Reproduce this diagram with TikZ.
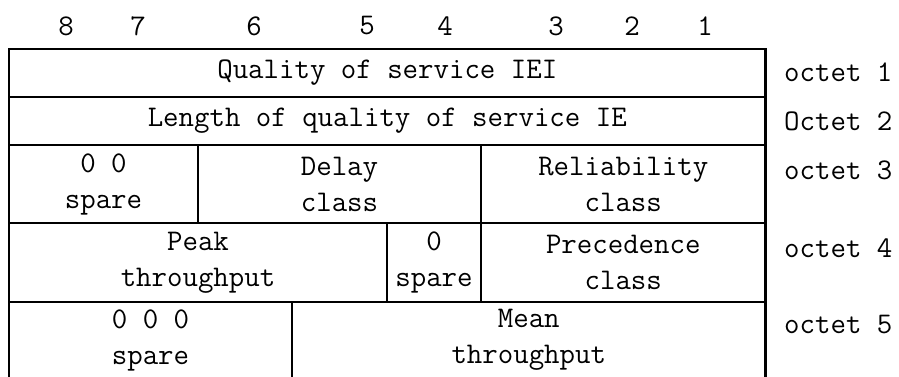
\documentclass[tikz,border=0pt]{standalone}
\usepackage{fontspec}
\usetikzlibrary{positioning}

\tikzset{
  field/.style={draw, line width=2.2pt, inner sep=0pt, align=center,
    font=\ttfamily\fontsize{30}{36}\selectfont},
  bitnum/.style={inner sep=0pt, font=\ttfamily\fontsize{30}{36}\selectfont},
  octetlbl/.style={anchor=west, inner sep=0pt, font=\ttfamily\fontsize{30}{36}\selectfont}
}

\begin{document}
\begin{tikzpicture}[x=1pt, y=-1pt]
  \useasboundingbox (0,0) rectangle (899,376);

  % bit numbers
  \node[bitnum] (b8) at (66,26) {8};
  \node[bitnum] (b7) at (138,26) {7};
  \node[bitnum] (b6) at (254,26) {6};
  \node[bitnum] (b5) at (367,26) {5};
  \node[bitnum] (b4) at (445,26) {4};
  \node[bitnum] (b3) at (556,26) {3};
  \node[bitnum] (b2) at (632,26) {2};
  \node[bitnum] (b1) at (705,26) {1};

  % octets 1 and 2
  \node[field, minimum width=756.5pt, minimum height=48pt] (iei) at (387.25,73) {Quality of service IEI};
  \node[field, minimum width=756.5pt, minimum height=48pt] (len) at (387.25,121) {Length of quality of service IE};

  % octet 3
  \node[field, minimum width=189pt, minimum height=78pt] (sp3) at (103.5,184) {0 0\\spare};
  \node[field, minimum width=283pt, minimum height=78pt] (delay) at (339.5,184) {Delay\\class};
  \node[field, minimum width=284.5pt, minimum height=78pt] (rel) at (623.25,184) {Reliability\\class};

  % octet 4
  \node[field, minimum width=378pt, minimum height=79pt] (peak) at (198,262.5) {Peak\\throughput};
  \node[field, minimum width=94pt, minimum height=79pt] (sp4) at (434,262.5) {0\\spare};
  \node[field, minimum width=284.5pt, minimum height=79pt] (prec) at (623.25,262.5) {Precedence\\class};

  % octet 5
  \node[field, minimum width=283pt, minimum height=76pt] (sp5) at (150.5,340) {0 0 0\\spare};
  \node[field, minimum width=473.5pt, minimum height=76pt] (mean) at (528.75,340) {Mean\\throughput};

  % octet labels
  \node[octetlbl] (o1) at (784,72) {octet 1};
  \node[octetlbl] (o2) at (784,121) {Octet 2};
  \node[octetlbl] (o3) at (784,170) {octet 3};
  \node[octetlbl] (o4) at (784,248) {octet 4};
  \node[octetlbl] (o5) at (784,325) {octet 5};
\end{tikzpicture}
\end{document}
